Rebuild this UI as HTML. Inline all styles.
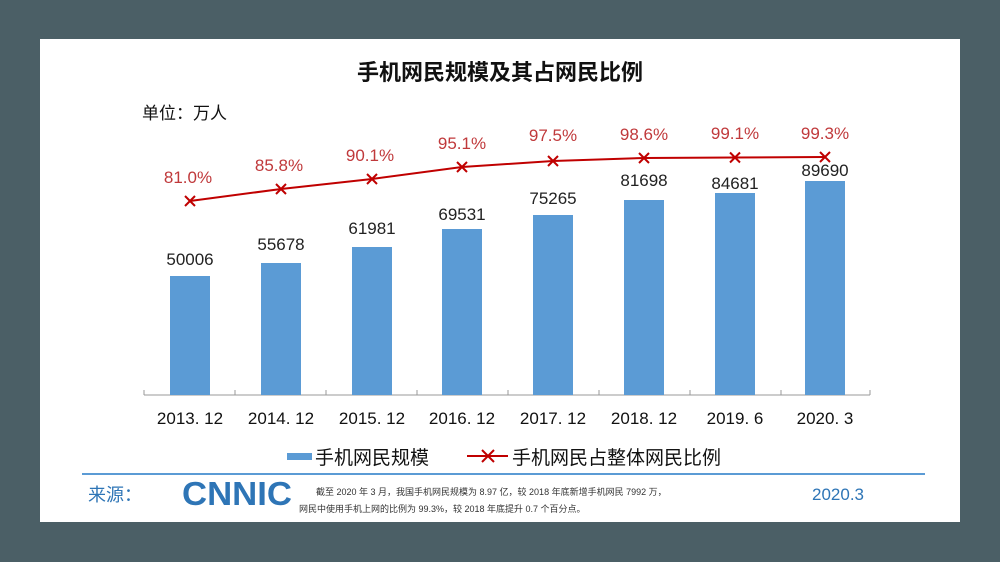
<!DOCTYPE html>
<html><head><meta charset="utf-8"><style>
html,body{margin:0;padding:0;background:#4b5f66;width:1000px;height:562px;overflow:hidden}
svg{position:absolute;left:0;top:0}
text{font-family:"Liberation Sans","Noto Sans CJK SC",sans-serif}
</style></head><body>
<svg width="1000" height="562" viewBox="0 0 1000 562">
<rect x="0" y="0" width="1000" height="562" fill="#4b5f66"/>
<rect x="40" y="39" width="920" height="483" fill="#ffffff"/>
<text x="500" y="80" text-anchor="middle" font-size="22" font-weight="bold" fill="#111">手机网民规模及其占网民比例</text>
<text x="142" y="119" font-size="17" fill="#111">单位：万人</text>
<line x1="144" y1="395" x2="870" y2="395" stroke="#999" stroke-width="1"/>
<g stroke="#999" stroke-width="1">
<line x1="144" y1="395" x2="144" y2="390"/><line x1="235" y1="395" x2="235" y2="390"/><line x1="326" y1="395" x2="326" y2="390"/><line x1="417" y1="395" x2="417" y2="390"/><line x1="508" y1="395" x2="508" y2="390"/><line x1="599" y1="395" x2="599" y2="390"/><line x1="690" y1="395" x2="690" y2="390"/><line x1="781" y1="395" x2="781" y2="390"/><line x1="870" y1="395" x2="870" y2="390"/>
</g>
<g fill="#5b9bd5">
<rect x="170" y="276" width="40" height="119"/>
<rect x="261" y="263" width="40" height="132"/>
<rect x="352" y="247" width="40" height="148"/>
<rect x="442" y="229" width="40" height="166"/>
<rect x="533" y="215" width="40" height="180"/>
<rect x="624" y="200" width="40" height="195"/>
<rect x="715" y="193" width="40" height="202"/>
<rect x="805" y="181" width="40" height="214"/>
</g>
<g font-size="17" fill="#222" text-anchor="middle">
<text x="190" y="265">50006</text><text x="281" y="250">55678</text><text x="372" y="234">61981</text><text x="462" y="220">69531</text><text x="553" y="204">75265</text><text x="644" y="186">81698</text><text x="735" y="189">84681</text><text x="825" y="176">89690</text>
</g>
<polyline points="190,201 281,189 372,179 462,167 553,161 644,158 735,157.5 825,157" fill="none" stroke="#c00000" stroke-width="2"/>
<g stroke="#c00000" stroke-width="2">
<path d="M185,196l10,10M195,196l-10,10"/><path d="M276,184l10,10M286,184l-10,10"/><path d="M367,174l10,10M377,174l-10,10"/><path d="M457,162l10,10M467,162l-10,10"/><path d="M548,156l10,10M558,156l-10,10"/><path d="M639,153l10,10M649,153l-10,10"/><path d="M730,152.5l10,10M740,152.5l-10,10"/><path d="M820,152l10,10M830,152l-10,10"/>
</g>
<g font-size="17" fill="#c0393b" text-anchor="middle">
<text x="188" y="183">81.0%</text><text x="279" y="171">85.8%</text><text x="370" y="161">90.1%</text><text x="462" y="149">95.1%</text><text x="553" y="141">97.5%</text><text x="644" y="140">98.6%</text><text x="735" y="139">99.1%</text><text x="825" y="139">99.3%</text>
</g>
<g font-size="17" fill="#111" text-anchor="middle">
<text x="190" y="424">2013. 12</text><text x="281" y="424">2014. 12</text><text x="372" y="424">2015. 12</text><text x="462" y="424">2016. 12</text><text x="553" y="424">2017. 12</text><text x="644" y="424">2018. 12</text><text x="735" y="424">2019. 6</text><text x="825" y="424">2020. 3</text>
</g>
<rect x="287" y="453" width="25" height="7" fill="#5b9bd5"/>
<text x="315" y="464" font-size="19" fill="#111">手机网民规模</text>
<line x1="467" y1="456" x2="508" y2="456" stroke="#c00000" stroke-width="2"/>
<path d="M482,450l12,12M494,450l-12,12" stroke="#c00000" stroke-width="2"/>
<text x="512" y="464" font-size="19" fill="#111">手机网民占整体网民比例</text>
<line x1="82" y1="474" x2="925" y2="474" stroke="#5b9bd5" stroke-width="2"/>
<text x="88" y="501" font-size="18" fill="#2e75b6">来源：</text>
<text x="182" y="505" font-size="33" font-weight="bold" fill="#2e75b6" textLength="110" lengthAdjust="spacingAndGlyphs">CNNIC</text>
<text x="316" y="495" font-size="9" fill="#333" font-family="Liberation Serif,'Noto Serif CJK SC',serif">截至 2020 年 3 月，我国手机网民规模为 8.97 亿，较 2018 年底新增手机网民 7992 万，</text>
<text x="299" y="512" font-size="9" fill="#333" font-family="Liberation Serif,'Noto Serif CJK SC',serif">网民中使用手机上网的比例为 99.3%，较 2018 年底提升 0.7 个百分点。</text>
<text x="812" y="500" font-size="17" fill="#2e75b6">2020.3</text>
</svg>
</body></html>
